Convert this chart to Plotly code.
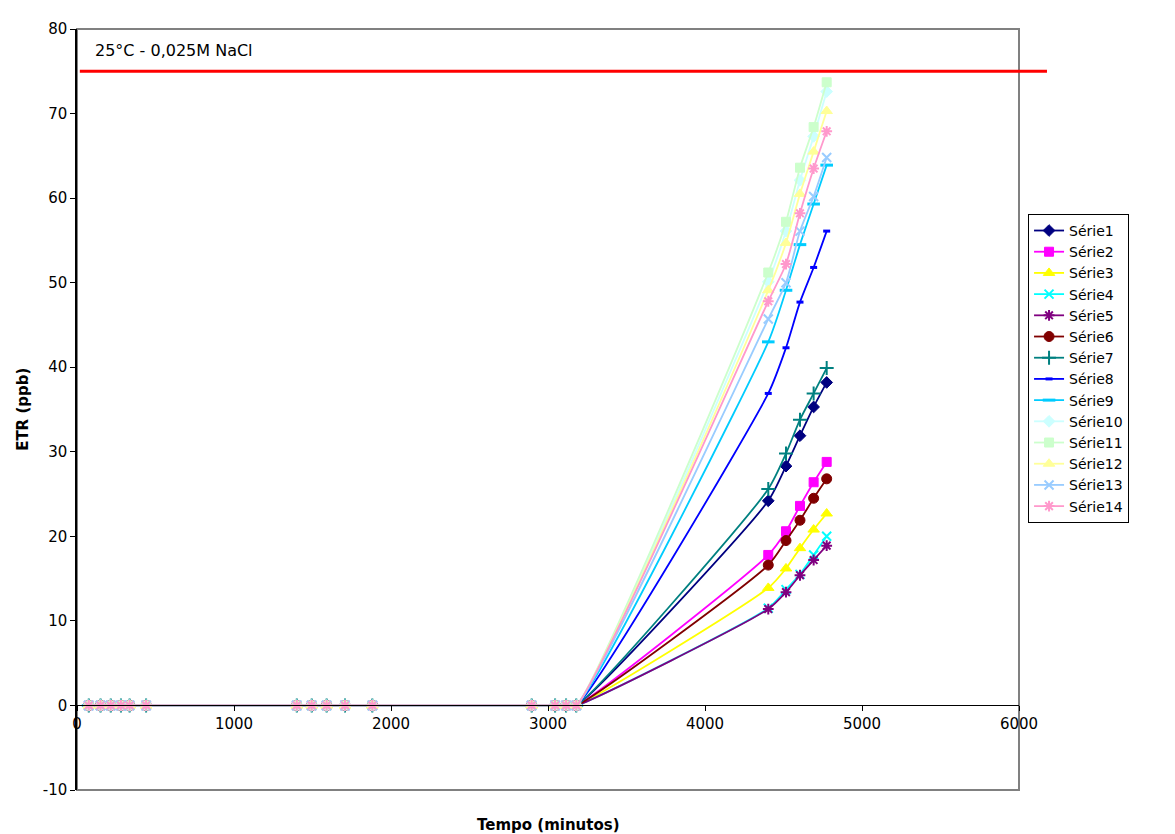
import plotly.graph_objects as go

# time points (minutes)
t_zero = [75, 150, 215, 280, 335, 440, 1400, 1495, 1590, 1707, 1881, 2896, 3045, 3115, 3180]
t_rise = [4403, 4516, 4605, 4692, 4775]
times = t_zero + t_rise

series_names = ["Série1", "Série2", "Série3", "Série4", "Série5", "Série6", "Série7",
                "Série8", "Série9", "Série10", "Série11", "Série12", "Série13", "Série14"]

rise_values = {
    "Série1": [24.2, 28.3, 31.9, 35.3, 38.2],
    "Série2": [17.8, 20.6, 23.6, 26.4, 28.8],
    "Série3": [13.9, 16.2, 18.6, 20.8, 22.7],
    "Série4": [11.5, 13.7, 15.5, 17.8, 20.0],
    "Série5": [11.4, 13.4, 15.4, 17.2, 18.9],
    "Série6": [16.6, 19.5, 21.9, 24.5, 26.8],
    "Série7": [25.6, 29.8, 33.8, 36.9, 39.9],
    "Série8": [36.9, 42.3, 47.7, 51.8, 56.1],
    "Série9": [43.0, 49.1, 54.5, 59.3, 63.9],
    "Série10": [50.1, 56.1, 62.1, 67.3, 72.6],
    "Série11": [51.2, 57.2, 63.6, 68.4, 73.7],
    "Série12": [49.1, 54.7, 60.5, 65.5, 70.3],
    "Série13": [45.7, 50.0, 56.1, 60.2, 64.8],
    "Série14": [47.8, 52.2, 58.2, 63.5, 67.9],
}
zero_values = [0.0] * len(t_zero)

y_tick_vals = [-10, 0, 10, 20, 30, 40, 50, 60, 70, 80]
y_tick_text = ["-10", "0", "10", "20", "30", "40", "50", "60", "70", "80"]

limit_value = 75
limit_label = "25°C - 0,025M NaCl"

styles = {
    "Série1": ("#000080", "diamond", 9, 1),
    "Série2": ("#FF00FF", "square", 9, 1),
    "Série3": ("#FFFF00", "triangle-up", 10, 1),
    "Série4": ("#00FFFF", "x-thin-open", 9, 2),
    "Série5": ("#800080", "asterisk-open", 9, 2),
    "Série6": ("#800000", "circle", 10, 1),
    "Série7": ("#008080", "cross-thin-open", 10, 2),
    "Série8": ("#0000FF", "line-ew-open", 5, 3),
    "Série9": ("#00CCFF", "line-ew-open", 9, 3),
    "Série10": ("#CCFFFF", "diamond", 9, 1),
    "Série11": ("#CCFFCC", "square", 9, 1),
    "Série12": ("#FFFF99", "triangle-up", 10, 1),
    "Série13": ("#99CCFF", "x-thin-open", 9, 2),
    "Série14": ("#FF99CC", "asterisk-open", 9, 2),
}

FONT = "DejaVu Sans"
fig = go.Figure()
for name in series_names:
    color, sym, size, lw = styles[name]
    fig.add_trace(go.Scatter(
        x=times, y=zero_values + rise_values[name], name=name,
        mode="lines+markers",
        line=dict(color=color, width=1.8, shape="spline", smoothing=0.6),
        marker=dict(symbol=sym, size=size, color=color, line=dict(color=color, width=lw)),
    ))

fig.add_shape(type="line", xref="paper", yref="y", x0=0.003, x1=1.0297, y0=limit_value, y1=limit_value,
              line=dict(color="#FF0000", width=3))
fig.add_shape(type="rect", xref="paper", yref="paper", x0=0, x1=1, y0=0, y1=1,
              line=dict(color="#808080", width=2), layer="below")
fig.add_annotation(text=limit_label, xref="paper", yref="y", x=0.017, y=77.5,
                   xanchor="left", yanchor="middle", showarrow=False,
                   font=dict(family=FONT, size=16, color="black"))
fig.add_annotation(text="<b>Tempo (minutos)</b>", xref="paper", yref="paper", x=0.5, y=-0.032,
                   xanchor="center", yanchor="top", showarrow=False,
                   font=dict(family=FONT, size=15, color="black"))
fig.add_annotation(text="<b>ETR (ppb)</b>", xref="paper", yref="paper", x=-0.058, y=0.5,
                   xanchor="center", yanchor="middle", showarrow=False, textangle=-90,
                   font=dict(family=FONT, size=15, color="black"))

fig.update_layout(
    width=1167, height=826,
    margin=dict(l=69, r=156, t=16, b=44),
    paper_bgcolor="white", plot_bgcolor="white",
    font=dict(family=FONT, size=15, color="black"),
    showlegend=True,
    legend=dict(x=1.0096, y=0.757, xanchor="left", yanchor="top",
                bordercolor="black", borderwidth=1, bgcolor="white",
                font=dict(family=FONT, size=14), tracegroupgap=0, itemwidth=30),
    xaxis=dict(range=[0, 6000], dtick=1000, showgrid=False, zeroline=False,
               anchor="free", position=10/90, showline=True, linecolor="black", linewidth=1,
               ticks="outside", ticklen=5, tickcolor="black", tickfont=dict(size=15)),
    yaxis=dict(range=[-10, 80], tickvals=y_tick_vals, ticktext=y_tick_text,
               showgrid=False, zeroline=False,
               showline=True, linecolor="black", linewidth=1.5,
               ticks="outside", ticklen=5, tickcolor="black", tickfont=dict(size=15)),
)

fig.write_html("out.html")
